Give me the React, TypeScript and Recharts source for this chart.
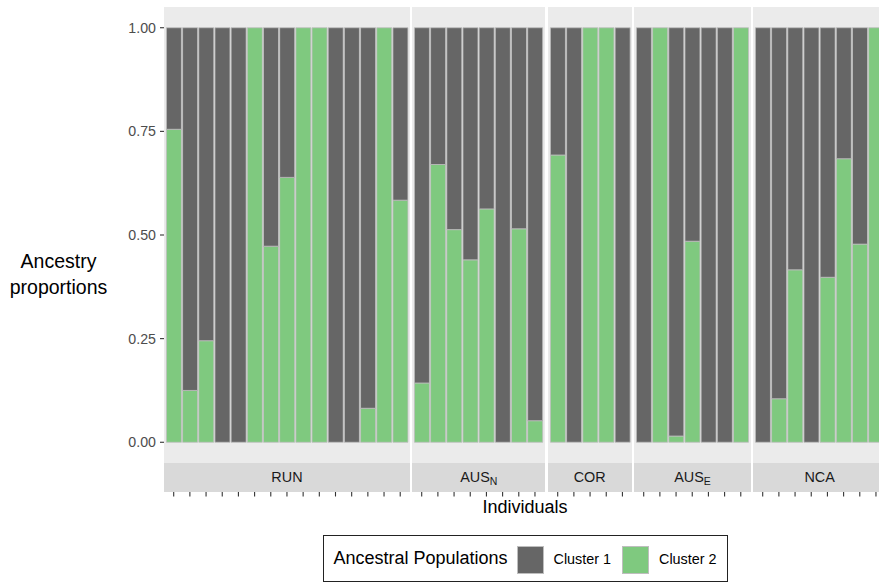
import React from 'react';
import { BarChart, Bar, XAxis, YAxis } from 'recharts';

// ---- data (ancestry proportions per individual) ----
const populations = ['RUN', 'AUS', 'COR', 'AUS', 'NCA'];
const populationSubscripts = ['', 'N', '', 'E', ''];

const runCluster2 = [0.755, 0.125, 0.245, 0, 0, 1, 0.473, 0.639, 1, 1, 0, 0, 0.082, 1, 0.584];
const runCluster1 = [0.245, 0.875, 0.755, 1, 1, 0, 0.527, 0.361, 0, 0, 1, 1, 0.918, 0, 0.416];

const ausNCluster2 = [0.143, 0.67, 0.513, 0.44, 0.563, 0, 0.515, 0.052];
const ausNCluster1 = [0.857, 0.33, 0.487, 0.56, 0.437, 1, 0.485, 0.948];

const corCluster2 = [0.693, 0, 1, 1, 0];
const corCluster1 = [0.307, 1, 0, 0, 1];

const ausECluster2 = [0, 1, 0.015, 0.485, 0, 0, 1];
const ausECluster1 = [1, 0, 0.985, 0.515, 1, 1, 0];

const ncaCluster2 = [0, 0.105, 0.416, 0, 0.398, 0.684, 0.478, 1];
const ncaCluster1 = [1, 0.895, 0.584, 1, 0.602, 0.316, 0.522, 0];

const cluster2ByPop = [runCluster2, ausNCluster2, corCluster2, ausECluster2, ncaCluster2];
const cluster1ByPop = [runCluster1, ausNCluster1, corCluster1, ausECluster1, ncaCluster1];

const seriesNames = ['Cluster 1', 'Cluster 2'];
const seriesColors = ['#666666', '#7FC97F'];
const yTicks = [0, 0.25, 0.5, 0.75, 1];

// ---- layout ----
const FONT = '"Liberation Sans", Arial, Helvetica, sans-serif';
const U = 16.18; // px per bar slot
const GAP = 2.5;
const PLOT_LEFT = 164;
const PLOT_TOP = 7;
const PLOT_H = 456;
const STRIP_H = 29;
const TICK_LEN = 4.5;
const XAXIS_H = STRIP_H + TICK_LEN + 2;
const AXIS_W = 164;
const PANEL_BG = '#EBEBEB';
const STRIP_BG = '#D9D9D9';
const OUTLINE = '#BEBEBE';

const panels = (() => {
  let x = PLOT_LEFT;
  return cluster2ByPop.map((c2, i) => {
    const w = (c2.length + 0.2) * U;
    const data = c2.map((v, j) => ({
      id: `${populations[i]}${populationSubscripts[i]}-${j + 1}`,
      c2: v,
      c1: cluster1ByPop[i][j],
    }));
    const p = { x, w, data, name: populations[i], sub: populationSubscripts[i] };
    x += w + GAP;
    return p;
  });
})();

const TickMark = (props: any) => {
  const { x, y } = props;
  return (
    <line x1={x} x2={x} y1={y + STRIP_H} y2={y + STRIP_H + TICK_LEN} stroke="#333333" strokeWidth={1.1} />
  );
};

export default function App() {
  return (
    <div
      style={{
        position: 'fixed',
        left: 0,
        top: 0,
        width: 879,
        height: 584,
        overflow: 'hidden',
        background: '#FFFFFF',
        fontFamily: FONT,
      }}
    >
      {panels.map((p, i) => (
        <div
          key={`bg-${i}`}
          style={{ position: 'absolute', left: p.x, top: PLOT_TOP, width: p.w, height: PLOT_H, background: PANEL_BG }}
        />
      ))}
      {panels.map((p, i) => (
        <div
          key={`strip-${i}`}
          style={{
            position: 'absolute',
            left: p.x,
            top: PLOT_TOP + PLOT_H,
            width: p.w,
            height: STRIP_H,
            background: STRIP_BG,
            color: '#1A1A1A',
            fontSize: 14.4,
            lineHeight: `${STRIP_H}px`,
            textAlign: 'center',
          }}
        >
          {p.name}
          {p.sub ? (
            <span style={{ fontSize: 10.5, position: 'relative', top: 3 }}>{p.sub}</span>
          ) : null}
        </div>
      ))}
      {panels.map((p, i) => {
        const first = i === 0;
        const width = p.w + (first ? AXIS_W : 0);
        return (
          <div
            key={`chart-${i}`}
            style={{ position: 'absolute', left: first ? 0 : p.x, top: PLOT_TOP, width, height: PLOT_H + XAXIS_H }}
          >
            <BarChart
              width={width}
              height={PLOT_H + XAXIS_H}
              data={p.data}
              margin={{ top: 0, right: 0, bottom: 0, left: 0 }}
              barCategoryGap="5%"
            >
              <XAxis
                dataKey="id"
                type="category"
                interval={0}
                height={XAXIS_H}
                axisLine={false}
                tickLine={false}
                tickSize={0}
                tickMargin={0}
                padding={{ left: 0.1 * U, right: 0.1 * U }}
                tick={<TickMark />}
              />
              <YAxis
                type="number"
                domain={[-0.05, 1.05]}
                ticks={yTicks}
                hide={!first}
                width={AXIS_W}
                axisLine={false}
                tickSize={4}
                tickMargin={4}
                tickLine={{ stroke: '#333333', strokeWidth: 1.1 }}
                tick={{ fill: '#4D4D4D', fontSize: 14.2, fontFamily: FONT }}
                tickFormatter={(v: number) => v.toFixed(2)}
                allowDataOverflow
              />
              <Bar
                dataKey="c2"
                name={seriesNames[1]}
                stackId="a"
                fill={seriesColors[1]}
                stroke={OUTLINE}
                strokeWidth={0.8}
                isAnimationActive={false}
              />
              <Bar
                dataKey="c1"
                name={seriesNames[0]}
                stackId="a"
                fill={seriesColors[0]}
                stroke={OUTLINE}
                strokeWidth={0.8}
                isAnimationActive={false}
              />
            </BarChart>
          </div>
        );
      })}

      <div
        style={{
          position: 'absolute',
          left: 0,
          top: 249,
          width: 117,
          textAlign: 'center',
          fontSize: 19.5,
          lineHeight: '25.5px',
          color: '#000',
        }}
      >
        Ancestry
        <br />
        proportions
      </div>

      <div
        style={{
          position: 'absolute',
          left: 425,
          top: 494.5,
          width: 200,
          textAlign: 'center',
          fontSize: 18,
          lineHeight: '25px',
          color: '#000',
        }}
      >
        Individuals
      </div>

      <div
        style={{
          position: 'absolute',
          left: 322.5,
          top: 535,
          width: 405.5,
          height: 46.5,
          border: '1px solid #222',
          boxSizing: 'border-box',
        }}
      >
        <div style={{ position: 'absolute', left: 10, top: 10, lineHeight: '25px', fontSize: 18, color: '#000' }}>
          Ancestral Populations
        </div>
        {seriesNames.map((s, k) => (
          <React.Fragment key={s}>
            <div
              style={{
                position: 'absolute',
                left: [193, 298][k],
                top: 10,
                width: 27.6,
                height: 27.6,
                boxSizing: 'border-box',
                background: seriesColors[k],
                border: `1px solid ${OUTLINE}`,
              }}
            />
            <div
              style={{
                position: 'absolute',
                left: [230, 335.5][k],
                top: 12,
                lineHeight: '22px',
                fontSize: 14.4,
                color: '#000',
              }}
            >
              {s}
            </div>
          </React.Fragment>
        ))}
      </div>
    </div>
  );
}
